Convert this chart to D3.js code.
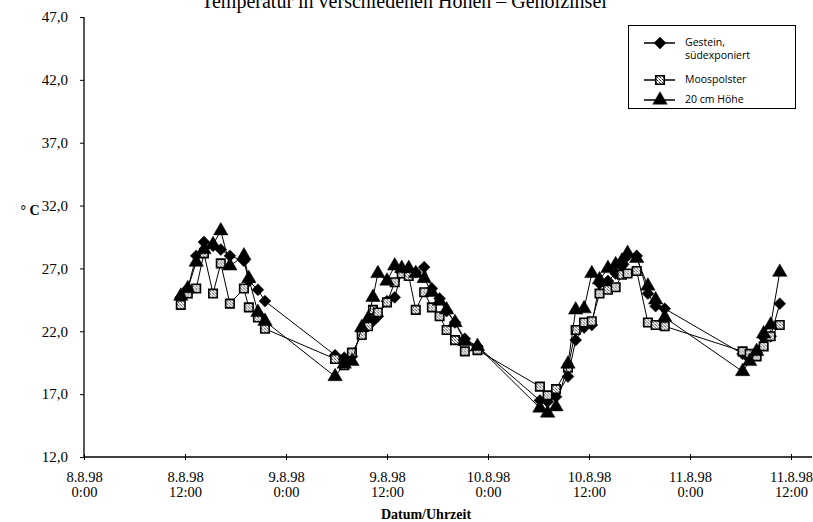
<!DOCTYPE html>
<html>
<head>
<meta charset="utf-8">
<style>
  body { margin: 0; background: #fff; }
</style>
</head>
<body>
<div id="chart"></div>

<script src="https://cdnjs.cloudflare.com/ajax/libs/d3/7.8.5/d3.min.js"></script>
<script>
// readings (shared time stamps for all three series)
var times = [
  "8.8.98 11:30", "8.8.98 12:20", "8.8.98 13:20", "8.8.98 14:15", "8.8.98 15:20", "8.8.98 16:15",
  "8.8.98 17:20", "8.8.98 19:00", "8.8.98 19:35", "8.8.98 20:40", "8.8.98 21:30",
  "9.8.98 5:50", "9.8.98 6:55", "9.8.98 7:50", "9.8.98 9:00", "9.8.98 9:45", "9.8.98 10:20",
  "9.8.98 10:55", "9.8.98 12:00", "9.8.98 12:55", "9.8.98 13:45", "9.8.98 14:35", "9.8.98 15:25",
  "9.8.98 16:25", "9.8.98 17:20", "9.8.98 18:15", "9.8.98 19:05", "9.8.98 20:05", "9.8.98 21:15",
  "9.8.98 22:45",
  "10.8.98 6:10", "10.8.98 7:05", "10.8.98 8:05", "10.8.98 9:30", "10.8.98 10:25", "10.8.98 11:25",
  "10.8.98 12:20", "10.8.98 13:15", "10.8.98 14:15", "10.8.98 15:10", "10.8.98 15:55", "10.8.98 16:35",
  "10.8.98 17:40", "10.8.98 19:00", "10.8.98 19:55", "10.8.98 21:00",
  "11.8.98 6:15", "11.8.98 7:05", "11.8.98 7:55", "11.8.98 8:45", "11.8.98 9:35", "11.8.98 10:40"
];

var gestein = [
  24.7, 25.4, 28.0, 29.1, 28.8, 28.5, 28.0, 27.6, 26.0, 25.3, 24.4,
  20.1, 19.9, 20.0, 22.0, 22.7, 22.8, 23.2, 24.4, 24.7, 26.7, 26.9, 26.7, 27.1, 25.4, 24.6, 23.6, 22.7, 21.4, 20.8,
  16.5, 16.4, 16.8, 18.4, 21.3, 22.3, 22.5, 25.8, 26.0, 26.6, 27.2, 28.0, 28.0, 25.0, 24.0, 23.8,
  20.2, 19.8, 20.3, 21.5, 21.6, 24.2
];

var moospolster = [
  24.1, 25.0, 25.4, 28.2, 25.0, 27.4, 24.2, 25.4, 23.9, 23.1, 22.2,
  19.8, 19.3, 20.3, 21.7, 22.4, 23.7, 23.5, 24.3, 25.9, 26.6, 26.4, 23.7, 25.1, 23.9, 23.2, 22.1, 21.3, 20.4, 20.5,
  17.6, 16.9, 17.4, 19.1, 22.1, 22.7, 22.8, 25.0, 25.3, 25.5, 26.5, 26.6, 26.8, 22.7, 22.5, 22.4,
  20.4, 20.2, 20.0, 20.8, 21.6, 22.5
];

var hoehe20 = [
  24.8, 25.4, 27.5, 28.5, 28.9, 30.0, 27.2, 28.0, 26.2, 23.5, 22.8,
  18.4, 19.4, 19.6, 22.3, 23.0, 24.7, 26.6, 26.0, 27.2, 27.0, 27.0, 26.6, 26.2, 25.1, 24.4, 23.7, 22.7, 21.2, 20.8,
  15.9, 15.5, 16.0, 19.4, 23.7, 23.8, 26.6, 26.1, 27.0, 27.3, 27.6, 28.2, 27.8, 25.6, 24.5, 23.1,
  18.8, 19.6, 20.4, 21.8, 22.5, 26.7
];

var seriesNames = ["Gestein,|südexponiert", "Moospolster", "20 cm Höhe"];
var xTickTimes = ["8.8.98 0:00", "8.8.98 12:00", "9.8.98 0:00", "9.8.98 12:00",
                  "10.8.98 0:00", "10.8.98 12:00", "11.8.98 0:00", "11.8.98 12:00"];
var yTicks = [12, 17, 22, 27, 32, 37, 42, 47];

var parseTime = d3.timeParse("%d.%m.%y %H:%M");
var deFormat = d3.formatLocale({decimal: ",", thousands: ".", grouping: [3], currency: ["", " €"]}).format(".1f");
var serif = "'Liberation Serif', 'Times New Roman', serif";

var width = 813, height = 522;
var svg = d3.select("#chart").append("svg")
    .attr("width", width)
    .attr("height", height)
    .style("font-family", serif);

// hatched fill for the moss squares
var pat = svg.append("defs").append("pattern")
    .attr("id", "hatch")
    .attr("width", 3).attr("height", 3)
    .attr("patternUnits", "userSpaceOnUse");
pat.append("rect").attr("width", 3).attr("height", 3).attr("fill", "#fff");
pat.append("rect").attr("width", 1).attr("height", 1).attr("fill", "#222");
pat.append("rect").attr("x", 2).attr("y", 2).attr("width", 1).attr("height", 1).attr("fill", "#444");
pat.append("rect").attr("x", 1).attr("y", 1).attr("width", 1).attr("height", 1).attr("fill", "#888");

var x = d3.scaleTime()
    .domain([parseTime("8.8.98 0:00"), parseTime("11.8.98 12:00")])
    .range([84, 791]);

var y = d3.scaleLinear()
    .domain([12, 47])
    .range([457, 17]);

// title (cut off at the top edge like the original)
svg.append("text")
    .attr("x", 404)
    .attr("y", 8)
    .attr("text-anchor", "middle")
    .style("font-size", "20px")
    .text("Temperatur in verschiedenen Höhen – Gehölzinsel");

// X axis
var xAxis = svg.append("g")
    .attr("transform", "translate(0," + y(12) + ")")
    .call(d3.axisBottom(x)
        .tickValues(xTickTimes.map(parseTime))
        .tickSize(3));
xAxis.select(".domain").remove();
xAxis.selectAll(".tick text").remove();
xAxis.selectAll(".tick line").attr("y1", -3).attr("y2", 3).attr("stroke", "#000");
xAxis.append("line")
    .attr("x1", 84).attr("x2", 812)
    .attr("stroke", "#000").attr("stroke-width", 1.3);

xAxis.selectAll(".tick").each(function(d, i) {
  var parts = xTickTimes[i].split(" ");
  var g = d3.select(this);
  g.append("text")
      .attr("fill", "#000")
      .attr("text-anchor", "middle")
      .attr("y", 25)
      .style("font-size", "14.5px")
      .style("font-family", serif)
      .text(parts[0]);
  g.append("text")
      .attr("fill", "#000")
      .attr("text-anchor", "middle")
      .attr("y", 40)
      .style("font-size", "14.5px")
      .style("font-family", serif)
      .text(parts[1]);
});

svg.append("text")
    .attr("x", 426)
    .attr("y", 519)
    .attr("text-anchor", "middle")
    .style("font-size", "14px")
    .style("font-weight", "bold")
    .text("Datum/Uhrzeit");

// Y axis
var yAxis = svg.append("g")
    .attr("transform", "translate(84,0)")
    .call(d3.axisLeft(y)
        .tickValues(yTicks)
        .tickSize(4)
        .tickPadding(12)
        .tickFormat(deFormat));
yAxis.select(".domain").remove();
yAxis.append("line")
    .attr("y1", y(47)).attr("y2", y(12))
    .attr("stroke", "#000").attr("stroke-width", 1.3);
yAxis.selectAll(".tick line").attr("stroke", "#000");
yAxis.selectAll(".tick text")
    .attr("fill", "#000")
    .style("font-size", "15px")
    .style("font-family", serif);

svg.append("text")
    .attr("x", 30)
    .attr("y", 215)
    .attr("text-anchor", "middle")
    .style("font-size", "14px")
    .style("font-weight", "bold")
    .text("° C");

// series
var allSeries = [gestein, moospolster, hoehe20];
var symbols = [
  d3.symbol().type(d3.symbolDiamond2).size(90),
  d3.symbol().type(d3.symbolSquare).size(72),
  d3.symbol().type(d3.symbolTriangle).size(90)
];
var fills = ["#000", "url(#hatch)", "#000"];

var line = d3.line()
    .x(function(d) { return x(d[0]); })
    .y(function(d) { return y(d[1]); });

allSeries.forEach(function(vals, k) {
  var pts = vals.map(function(v, i) { return [parseTime(times[i]), v]; });
  svg.append("path")
      .datum(pts)
      .attr("fill", "none")
      .attr("stroke", "#000")
      .attr("stroke-width", 1)
      .attr("d", line);
  svg.append("g").selectAll("path")
      .data(pts)
      .enter().append("path")
      .attr("transform", function(d) { return "translate(" + x(d[0]) + "," + y(d[1]) + ")"; })
      .attr("d", symbols[k])
      .attr("fill", fills[k])
      .attr("stroke", "#000")
      .attr("stroke-width", k == 1 ? 1.6 : 0.5);
});

// legend
var legend = svg.append("g").style("font-family", "'Open Sans', 'DejaVu Sans', sans-serif");
legend.append("rect")
    .attr("x", 628.5).attr("y", 25.5)
    .attr("width", 167).attr("height", 83)
    .attr("fill", "#fff")
    .attr("stroke", "#000");

var legendY = [43, 80, 100];
seriesNames.forEach(function(name, k) {
  var ly = legendY[k];
  legend.append("line")
      .attr("x1", 644).attr("x2", 675)
      .attr("y1", ly).attr("y2", ly)
      .attr("stroke", "#000").attr("stroke-width", 1.5);
  legend.append("path")
      .attr("transform", "translate(660," + ly + ")")
      .attr("d", symbols[k])
      .attr("fill", fills[k])
      .attr("stroke", "#000")
      .attr("stroke-width", k == 1 ? 1.6 : 0.5);
  var lines = name.split("|");
  lines.forEach(function(s, j) {
    legend.append("text")
        .attr("x", 685)
        .attr("y", ly + 3 + j * 13)
        .style("font-size", "10.5px")
        .text(s);
  });
});
</script>
</body>
</html>
